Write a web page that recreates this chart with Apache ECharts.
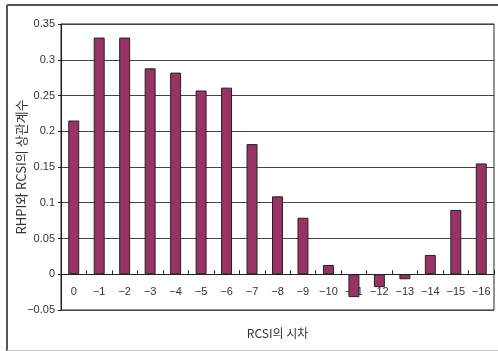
<!DOCTYPE html>
<html>
<head>
<meta charset="utf-8">
<script src="https://cdn.jsdelivr.net/npm/echarts@6/dist/echarts.min.js"></script>
<style>
  html, body { margin: 0; padding: 0; background: #fff; }
  #chart { width: 498px; height: 351px; }
</style>
</head>
<body>
<div id="chart"></div>
<script>
// Lag categories and correlation coefficients
const lags = ['0', '−1', '−2', '−3', '−4', '−5', '−6', '−7', '−8', '−9', '−10', '−11', '−12', '−13', '−14', '−15', '−16'];
const correlations = [0.215, 0.331, 0.331, 0.288, 0.282, 0.257, 0.261, 0.182, 0.109, 0.079, 0.013, -0.032, -0.018, -0.007, 0.027, 0.090, 0.155];

const yAxisTitle = 'RHPI와 RCSI의 상관계수';
const xAxisTitle = 'RCSI의 시차';

const numFont = '"Liberation Sans Narrow", "Liberation Sans", Arial, sans-serif';
const krFont = '"Noto Sans CJK KR", "Liberation Sans", sans-serif';

// Plot box and value range
const gridBox = { left: 61, top: 24, right: 4, bottom: 41 };
const yMin = -0.05, yMax = 0.35;
const plotHeight = 351 - gridBox.top - gridBox.bottom;
// Category axis sits on the zero line
const zeroOffset = -plotHeight * (0 - yMin) / (yMax - yMin);

const chart = echarts.init(document.getElementById('chart'), null, { renderer: 'canvas' });

chart.setOption({
  animation: false,
  backgroundColor: '#fff',
  grid: {
    ...gridBox,
    containLabel: false,
    outerBoundsMode: 'none',
    show: true, borderColor: '#222', borderWidth: 1, backgroundColor: 'transparent'
  },
  xAxis: {
    type: 'category',
    data: lags,
    position: 'bottom',
    offset: zeroOffset,
    axisLine: { onZero: false, lineStyle: { color: '#222', width: 1 } },
    axisTick: { show: true, inside: true, length: 4, lineStyle: { color: '#222' } },
    axisLabel: { color: '#333', fontSize: 11, fontFamily: numFont, margin: 12 },
    name: xAxisTitle,
    nameLocation: 'middle',
    nameGap: 53,
    nameMoveOverlap: false,
    nameTextStyle: { color: '#333', fontSize: 12, fontFamily: krFont }
  },
  yAxis: {
    type: 'value',
    min: yMin, max: yMax, interval: 0.05,
    axisLine: { show: true, lineStyle: { color: '#222' } },
    axisTick: { show: true, length: 3, lineStyle: { color: '#222' } },
    axisLabel: {
      color: '#333', fontSize: 11, fontFamily: numFont, margin: 6,
      formatter: v => String(+v.toFixed(2)).replace('-', '−')
    },
    splitLine: { show: true, lineStyle: { color: '#444', width: 1 } },
    name: yAxisTitle,
    nameLocation: 'middle',
    nameGap: 33,
    nameRotate: 90,
    nameMoveOverlap: false,
    nameTextStyle: { color: '#333', fontSize: 13, fontFamily: krFont }
  },
  series: [{
    type: 'bar',
    data: correlations,
    barWidth: '43%',
    itemStyle: { color: '#993366', borderColor: '#222', borderWidth: 1 }
  }],
  graphic: [
    { type: 'line', shape: { x1: 7, y1: 5, x2: 498, y2: 5 }, style: { stroke: '#555', lineWidth: 2 } },
    { type: 'line', shape: { x1: 7, y1: 5, x2: 7, y2: 351 }, style: { stroke: '#555', lineWidth: 2 } },
    { type: 'line', shape: { x1: 7, y1: 350.5, x2: 498, y2: 350.5 }, style: { stroke: '#ccc', lineWidth: 1 } }
  ]
});
</script>
</body>
</html>
